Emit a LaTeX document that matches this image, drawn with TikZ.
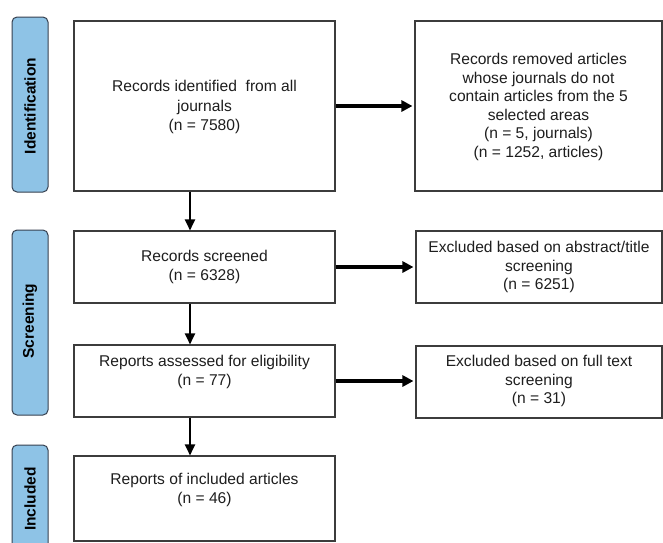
\documentclass[tikz,border=0pt]{standalone}
\usepackage{fontspec}
\setmainfont{Liberation Sans}
\usetikzlibrary{arrows.meta}
\definecolor{sidefill}{RGB}{142,195,230}
\definecolor{sideline}{RGB}{55,65,80}
\definecolor{boxline}{RGB}{60,60,60}
\definecolor{txtcol}{RGB}{30,30,30}
\begin{document}
\begin{tikzpicture}[x=1pt,y=-1pt,
  box/.style={draw=boxline, line width=1.1pt, fill=white, inner sep=0pt, rectangle},
  side/.style={draw=sideline, fill=sidefill, line width=1pt, rounded corners=5pt, inner sep=0pt},
  sidetext/.style={rotate=90, inner sep=0pt, font=\bfseries\fontsize{15.5}{17}\selectfont},
  txt/.style={align=center, inner sep=0pt, text=txtcol, font=\fontsize{15.6}{18.5}\selectfont},
  harrow/.style={line width=3.5pt, shorten >=2pt, -{Triangle[length=11pt,width=11pt]}},
  varrow/.style={line width=2pt, -{Triangle[length=11pt,width=10pt]}}]
\clip (0,0) rectangle (663,542);
\useasboundingbox (0,0) rectangle (663,542);
\fill[white] (0,0) rectangle (663,542);

% phase labels
\node[side, minimum width=36pt, minimum height=175pt] (s1) at (30,104.5) {};
\node[sidetext] (s1t) at (30,106) {Identification};
\node[side, minimum width=36pt, minimum height=185pt] (s2) at (30,322.5) {};
\node[sidetext] (s2t) at (30,321) {Screening};
\node[side, minimum width=36pt, minimum height=115pt] (s3) at (30,502.5) {};
\node[sidetext] (s3t) at (30,499) {Included};

% boxes
\node[box, minimum width=261pt, minimum height=170pt] (b1) at (204.5,106) {};
\node[box, minimum width=247pt, minimum height=170pt] (b2) at (538.5,106) {};
\node[box, minimum width=261pt, minimum height=72pt] (b3) at (204.5,267) {};
\node[box, minimum width=246pt, minimum height=72pt] (b4) at (539,267) {};
\node[box, minimum width=261pt, minimum height=72pt] (b5) at (204.5,381) {};
\node[box, minimum width=246pt, minimum height=72pt] (b6) at (539,382) {};
\node[box, minimum width=261pt, minimum height=85pt] (b7) at (204.5,498.5) {};

% texts
\node[txt, font=\fontsize{15.6}{19.5}\selectfont] (t1) at (204.5,107) {Records identified\ \ from all\\journals\\(n = 7580)};
\node[txt] (t2) at (538.5,107) {Records removed articles\\whose journals do not\\contain articles from the 5\\selected areas\\(n = 5, journals)\\(n = 1252, articles)};
\node[txt] (t3) at (204.5,267) {Records screened\\(n = 6328)};
\node[txt] (t4) at (539,267) {Excluded based on abstract/title\\screening\\(n = 6251)};
\node[txt] (t5) at (204.5,372) {Reports assessed for eligibility\\(n = 77)};
\node[txt] (t6) at (539,381) {Excluded based on full text\\screening\\(n = 31)};
\node[txt] (t7) at (204.5,490) {Reports of included articles\\(n = 46)};

% connectors
\coordinate (vx) at (190,0);
\draw[harrow] (b1.east) -- (b2.west);
\draw[harrow] (b3.east) -- (b4.west);
\draw[harrow] (b5.east) -- (b5.east -| b6.west);
\draw[varrow] (b1.south -| vx) -- (b3.north -| vx);
\draw[varrow] (b3.south -| vx) -- (b5.north -| vx);
\draw[varrow] (b5.south -| vx) -- (b7.north -| vx);
\end{tikzpicture}
\end{document}
